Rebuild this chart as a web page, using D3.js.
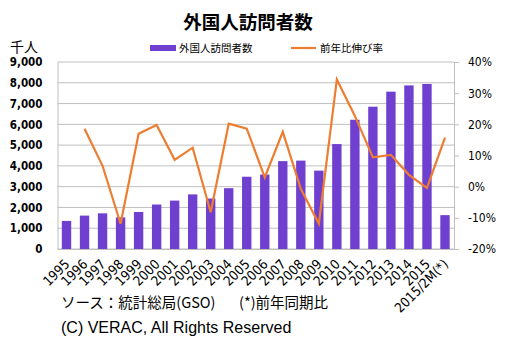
<!DOCTYPE html>
<html lang="ja">
  <head>
    <meta charset="UTF-8" />
    <title>外国人訪問者数</title>
    <script src="https://d3js.org/d3.v7.min.js"></script>
    <style>
      body {
        margin: 0;
        padding: 0;
        background: #fff;
        font-family: "Noto Sans CJK JP", "Noto Sans", sans-serif;
      }
      svg {
        display: block;
      }
    </style>
  </head>
  <body>
    <svg width="517" height="349"></svg>
    <script>
      // データ
      const years = [
        "1995", "1996", "1997", "1998", "1999", "2000", "2001", "2002",
        "2003", "2004", "2005", "2006", "2007", "2008", "2009", "2010",
        "2011", "2012", "2013", "2014", "2015", "2015/2M(*)"
      ];
      // 外国人訪問者数 (千人)
      const visitors = [
        1351, 1607, 1716, 1520, 1782, 2140, 2330, 2628, 2429, 2928, 3478,
        3583, 4229, 4254, 3772, 5050, 6220, 6848, 7572, 7874, 7944, 1630
      ];
      // 前年比伸び率 (%)
      const growth = [
        null, 18.6, 6.7, -11.9, 17.0, 19.8, 8.6, 12.5, -8.2, 20.2, 18.6,
        3.0, 17.6, -0.7, -11.9, 34.4, 22.7, 9.4, 10.2, 3.8, -0.4, 15.7
      ];
      const leftTicks = [0, 1000, 2000, 3000, 4000, 5000, 6000, 7000, 8000, 9000];
      const rightTicks = [-20, -10, 0, 10, 20, 30, 40];

      const purple = "#6f3fcf";
      const orange = "#ed7d31";
      const gridColor = "#bfbfbf";

      const margin = { top: 62, right: 63, bottom: 100, left: 57.5 };
      const width = 517 - margin.left - margin.right;
      const height = 349 - margin.top - margin.bottom;

      const svg = d3.select("svg");
      const g = svg.append("g")
        .attr("transform", `translate(${margin.left},${margin.top})`);

      const x = d3.scaleBand().domain(years).range([0, width]).paddingInner(0.48).paddingOuter(0.24);
      const y = d3.scaleLinear().domain([0, 9000]).range([height, 0]);
      const y2 = d3.scaleLinear().domain([-20, 40]).range([height, 0]);

      // グリッド線
      g.append("g")
        .selectAll("line")
        .data(leftTicks)
        .enter()
        .append("line")
        .attr("x1", 0)
        .attr("x2", width)
        .attr("y1", (d) => y(d))
        .attr("y2", (d) => y(d))
        .attr("stroke", gridColor)
        .attr("stroke-width", 1);

      // 左軸
      const leftAxis = g.append("g")
        .call(d3.axisLeft(y).tickValues(leftTicks).tickSize(0).tickPadding(15).tickFormat(d3.format(",")));
      leftAxis.select(".domain").attr("stroke", gridColor);
      leftAxis.selectAll("text")
        .attr("font-family", "DejaVu Sans Condensed, DejaVu Sans, sans-serif")
        .attr("font-weight", "bold")
        .attr("font-size", 11.5)
        .attr("fill", "#000");

      // 右軸
      const rightAxis = g.append("g")
        .attr("transform", `translate(${width},0)`)
        .call(d3.axisRight(y2).tickValues(rightTicks).tickSize(5).tickPadding(9).tickFormat((d) => d + "%"));
      rightAxis.selectAll(".domain, line").attr("stroke", gridColor);
      rightAxis.selectAll("text")
        .attr("font-family", "DejaVu Sans Condensed, DejaVu Sans, sans-serif")
        .attr("font-size", 12)
        .attr("fill", "#000");

      // 棒グラフ
      g.selectAll(".bar")
        .data(years)
        .enter()
        .append("rect")
        .attr("class", "bar")
        .attr("x", (d) => x(d))
        .attr("width", x.bandwidth())
        .attr("y", (d, i) => y(visitors[i]))
        .attr("height", (d, i) => height - y(visitors[i]))
        .attr("fill", purple);

      // 下軸
      const bottomAxis = g.append("g")
        .attr("transform", `translate(0,${height})`)
        .call(d3.axisBottom(x).tickSize(0));
      bottomAxis.select(".domain").attr("stroke", gridColor);
      bottomAxis.selectAll("text")
        .attr("font-family", "DejaVu Sans Condensed, DejaVu Sans, sans-serif")
        .attr("font-size", 13.5)
        .attr("fill", "#000")
        .attr("text-anchor", "end")
        .attr("x", 0)
        .attr("y", 0)
        .attr("dy", 0)
        .attr("transform", "translate(4,16) rotate(-45)");

      // 伸び率の折れ線
      const lineData = years
        .map((d, i) => ({ year: d, value: growth[i] }))
        .filter((d) => d.value !== null);
      const line = d3.line()
        .x((d) => x(d.year) + x.bandwidth() / 2)
        .y((d) => y2(d.value));
      g.append("path")
        .datum(lineData)
        .attr("d", line)
        .attr("fill", "none")
        .attr("stroke", orange)
        .attr("stroke-width", 2.2);

      // タイトル
      svg.append("text")
        .attr("x", 248)
        .attr("y", 29)
        .attr("text-anchor", "middle")
        .attr("font-size", 18.5)
        .attr("font-weight", "bold")
        .text("外国人訪問者数");

      // 単位
      svg.append("text")
        .attr("x", 10)
        .attr("y", 52)
        .attr("font-size", 14)
        .text("千人");

      // 凡例
      svg.append("rect")
        .attr("x", 150).attr("y", 45).attr("width", 26).attr("height", 6)
        .attr("fill", purple);
      svg.append("text")
        .attr("x", 179).attr("y", 52)
        .attr("font-size", 10.5)
        .text("外国人訪問者数");
      svg.append("line")
        .attr("x1", 291).attr("x2", 316).attr("y1", 48).attr("y2", 48)
        .attr("stroke", orange).attr("stroke-width", 2.2);
      svg.append("text")
        .attr("x", 320).attr("y", 52)
        .attr("font-size", 10.5)
        .text("前年比伸び率");

      // 出所
      svg.append("text")
        .attr("x", 61).attr("y", 308)
        .attr("font-size", 14.5)
        .text("ソース：統計総局(GSO)");
      svg.append("text")
        .attr("x", 239).attr("y", 308)
        .attr("font-size", 14.5)
        .text("(*)前年同期比");
      svg.append("text")
        .attr("x", 61).attr("y", 333)
        .attr("font-family", "Liberation Sans, Arial, sans-serif")
        .attr("font-size", 16)
        .text("(C) VERAC, All Rights Reserved");
    </script>
  </body>
</html>
